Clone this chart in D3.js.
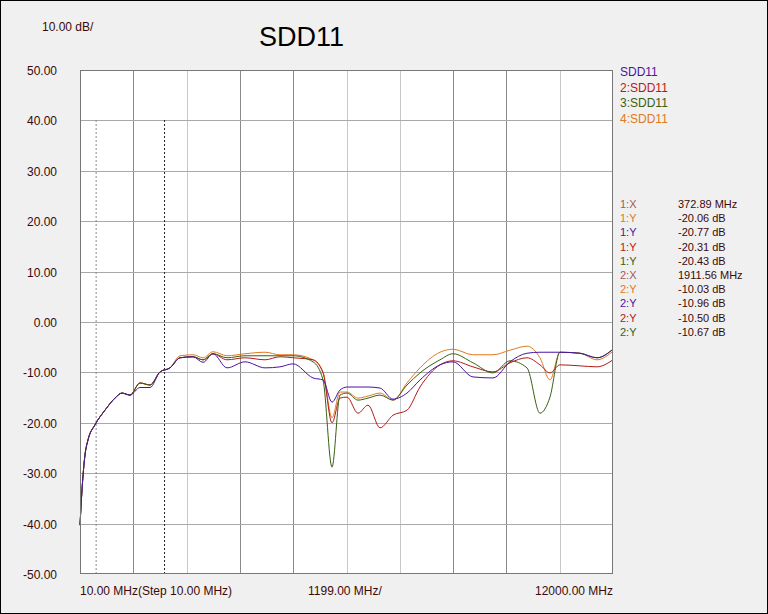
<!DOCTYPE html>
<html><head><meta charset="utf-8">
<script src="https://cdn.jsdelivr.net/npm/d3@7"></script>
<style>body{margin:0;background:#f0f0f0}svg{display:block}text{font-family:"Liberation Sans",Arial,sans-serif}</style>
</head><body>
<script>
const freqMHz=[10,55,122,190,347,572,797,954,1135,1360,1585,1810,2035,2260,2552,2777,3002,3317,3722,4172,4509,4802,5252,5477,5679,5859,6017,6264,6489,6759,7051,7366,7658,8108,8400,8850,9300,9682,10065,10357,10582,10807,11257,11640,12000];
const common=[-40.3,-33.3,-26.4,-23.4,-20.4,-17.5,-15.1,-14.1,-14.5,-12.1,-12.5,-9.9,-9.1,-7.1,-6.9,-7.5,-6.3];
const sdd11_1=common.map((v,i)=>i===9?-13:i===10?-13:i===15?-8:v).concat([-9.1,-7.9,-9.1,-8.9,-8.3,-11.1,-11.5,-15.9,-13.5,-12.9,-12.9,-12.9,-13.1,-15.3,-14.1,-11.5,-8.5,-7.9,-10.9,-11.1,-7.9,-6.2,-6.0,-6.0,-6.0,-6.2,-7.1,-5.4]);
const sdd11_2=common.concat([-7.5,-7.1,-7.5,-6.9,-7.1,-7.5,-10.1,-20.0,-15.1,-14.9,-18.1,-16.5,-21.0,-18.5,-17.5,-12.9,-8.5,-7.7,-8.9,-9.9,-8.1,-7.1,-8.5,-10.1,-8.5,-8.7,-8.9,-7.5]);
const sdd11_3=common.concat([-7.1,-6.7,-6.7,-6.7,-6.7,-7.9,-11.5,-28.8,-14.5,-14.1,-15.5,-15.1,-14.5,-15.5,-12.5,-10.1,-7.5,-6.3,-8.1,-10.1,-7.7,-9.1,-18.1,-14.9,-6.0,-6.2,-7.1,-5.4]);
const sdd11_4=common.map((v,i)=>i>=13?v+0.4:v).concat([-6.7,-6.3,-6.0,-6.5,-6.5,-7.5,-9.9,-19.0,-13.9,-13.9,-15.1,-14.7,-14.1,-15.5,-12.1,-9.1,-6.0,-5.4,-6.5,-6.5,-5.6,-4.8,-7.1,-11.5,-6.0,-6.2,-7.5,-5.8]);
const seriesNames=["SDD11","2:SDD11","3:SDD11","4:SDD11"];
const seriesColors=["#4a14a0","#b81818","#3a6012","#e07a20"];
const yTicks=[50,40,30,20,10,0,-10,-20,-30,-40,-50];
const markerFreqs=[372.89,1911.56];
const markerLabels=["1:X","1:Y","1:Y","1:Y","1:Y","2:X","2:Y","2:Y","2:Y","2:Y"];
const markerValues=["372.89 MHz","-20.06 dB","-20.77 dB","-20.31 dB","-20.43 dB","1911.56 MHz","-10.03 dB","-10.96 dB","-10.50 dB","-10.67 dB"];
const markerColors=["#a05a5a","#e07a20","#4a14a0","#b81818","#3a6012","#a05a5a","#e07a20","#4a14a0","#b81818","#3a6012"];

const W=768,H=614,L=80,R=613,T=70,B=574;
const svg=d3.select("body").append("svg").attr("width",W).attr("height",H);
svg.append("rect").attr("x",0.5).attr("y",0.5).attr("width",W-1).attr("height",H-1).attr("fill","#f0f0f0").attr("stroke","#000");
svg.append("rect").attr("x",L).attr("y",T).attr("width",R-L).attr("height",B-T).attr("fill","#fff");
const x=d3.scaleLinear().domain([10,12000]).range([L,R]);
const y=d3.scaleLinear().domain([-50,50]).range([B,T]);
const darkCols=[1,3,4,7,8];
for(let i=1;i<10;i++){const xx=Math.round(L+(R-L)*i/10)+0.5;
 svg.append("line").attr("x1",xx).attr("x2",xx).attr("y1",T).attr("y2",B).attr("stroke",darkCols.includes(i)?"#8a8a8a":"#c8c8c8");}
yTicks.forEach(t=>{const yy=Math.round(y(t))+0.5;
 if(t<50&&t>-50)svg.append("line").attr("x1",L).attr("x2",R).attr("y1",yy).attr("y2",yy).attr("stroke","#a8a8a8");
 svg.append("text").attr("x",57).attr("y",yy+4).attr("text-anchor","end").attr("font-size",12).attr("fill","#3a0a0a").text(t.toFixed(2));});
markerFreqs.forEach((f,i)=>{svg.append("line").attr("x1",x(f)).attr("x2",x(f)).attr("y1",120).attr("y2",B).attr("stroke",i?"#222":"#888").attr("stroke-dasharray","2,2");});
const line=d3.line().x((d,i)=>x(freqMHz[i])).y(d=>y(d)).curve(d3.curveMonotoneX);
[sdd11_4,sdd11_2,sdd11_3,sdd11_1].forEach((s,k)=>{const c=[3,1,2,0][k];
 svg.append("path").attr("d",line(s)).attr("fill","none").attr("stroke",seriesColors[c]).attr("stroke-width",1);});
svg.append("rect").attr("x",L+0.5).attr("y",T+0.5).attr("width",R-L-1).attr("height",B-T-1).attr("fill","none").attr("stroke","#777");
svg.append("text").attr("x",42).attr("y",31).attr("font-size",12).attr("fill","#3a0a0a").text("10.00 dB/");
svg.append("text").attr("x",259).attr("y",46).attr("font-size",27).attr("fill","#000").text("SDD11");
seriesNames.forEach((n,i)=>svg.append("text").attr("x",620).attr("y",76+i*15.5).attr("font-size",12).attr("fill",seriesColors[i]).text(n));
markerLabels.forEach((n,i)=>{const yy=208+i*14.2;
 svg.append("text").attr("x",620).attr("y",yy).attr("font-size",11).attr("fill",markerColors[i]).text(n);
 svg.append("text").attr("x",678).attr("y",yy).attr("font-size",11).attr("fill","#3a0a0a").text(markerValues[i]);});
svg.append("text").attr("x",L).attr("y",595).attr("font-size",12).attr("fill","#3a0a0a").text("10.00 MHz(Step 10.00 MHz)");
svg.append("text").attr("x",308).attr("y",595).attr("font-size",12).attr("fill","#3a0a0a").text("1199.00 MHz/");
svg.append("text").attr("x",R).attr("y",595).attr("text-anchor","end").attr("font-size",12).attr("fill","#3a0a0a").text("12000.00 MHz");
</script></body></html>
